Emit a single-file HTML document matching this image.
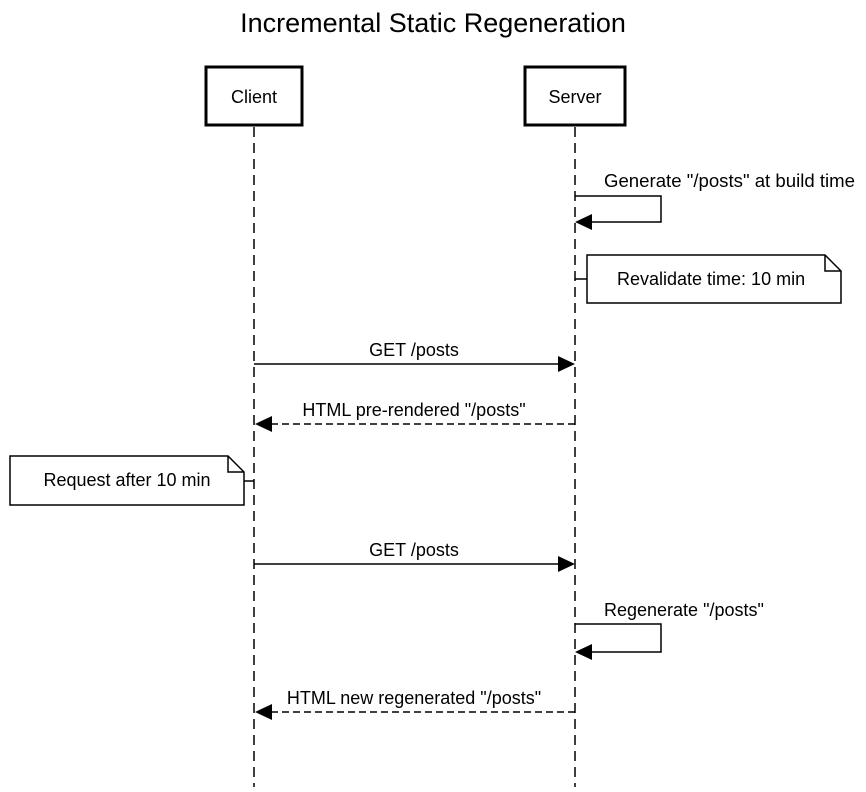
<!DOCTYPE html>
<html><head><meta charset="utf-8"><style>body{margin:0;background:#fff}</style></head><body>
<svg width="866" height="787" viewBox="0 0 866 787" xmlns="http://www.w3.org/2000/svg" font-family="Liberation Sans, Arial, sans-serif">
<rect width="866" height="787" fill="#fff"/>
<text x="433" y="32" font-size="27" text-anchor="middle">Incremental Static Regeneration</text>
<g stroke="#000" stroke-width="1.5" stroke-dasharray="10,6" fill="none">
<line x1="254" y1="127" x2="254" y2="787"/>
<line x1="575" y1="127" x2="575" y2="787"/>
</g>
<rect x="206" y="67" width="96" height="58" fill="#fff" stroke="#000" stroke-width="3"/>
<rect x="525" y="67" width="100" height="58" fill="#fff" stroke="#000" stroke-width="3"/>
<g font-size="18" text-anchor="middle">
<text x="254" y="103">Client</text>
<text x="575" y="103">Server</text>
</g>
<g stroke="#000" stroke-width="1.5" fill="none">
<polyline points="575,196 661,196 661,222 591,222"/>
<line x1="575" y1="279" x2="587" y2="279"/>
<path d="M587,255 H825 L841,271 V303 H587 Z M825,255 V271 H841" fill="#fff"/>
<line x1="254" y1="364" x2="560" y2="364"/>
<line x1="575" y1="424" x2="270" y2="424" stroke-dasharray="7,4"/>
<line x1="244" y1="481" x2="254" y2="481"/>
<path d="M10,456 H228 L244,472 V505 H10 Z M228,456 V472 H244" fill="#fff"/>
<line x1="254" y1="564" x2="560" y2="564"/>
<polyline points="575,624 661,624 661,652 591,652"/>
<line x1="575" y1="712" x2="270" y2="712" stroke-dasharray="7,4"/>
</g>
<g fill="#000">
<polygon points="575,222 592,214 592,230"/>
<polygon points="575,364 558,356 558,372"/>
<polygon points="255,424 272,416 272,432"/>
<polygon points="575,564 558,556 558,572"/>
<polygon points="575,652 592,644 592,660"/>
<polygon points="255,712 272,704 272,720"/>
</g>
<g font-size="18">
<text x="604" y="187" textLength="251" lengthAdjust="spacingAndGlyphs">Generate "/posts" at build time</text>
<text x="617" y="285">Revalidate time: 10 min</text>
<text x="414" y="356" text-anchor="middle">GET /posts</text>
<text x="414" y="416" text-anchor="middle">HTML pre-rendered "/posts"</text>
<text x="127" y="486" text-anchor="middle">Request after 10 min</text>
<text x="414" y="556" text-anchor="middle">GET /posts</text>
<text x="604" y="616">Regenerate "/posts"</text>
<text x="414" y="704" text-anchor="middle">HTML new regenerated "/posts"</text>
</g>
</svg>
</body></html>
